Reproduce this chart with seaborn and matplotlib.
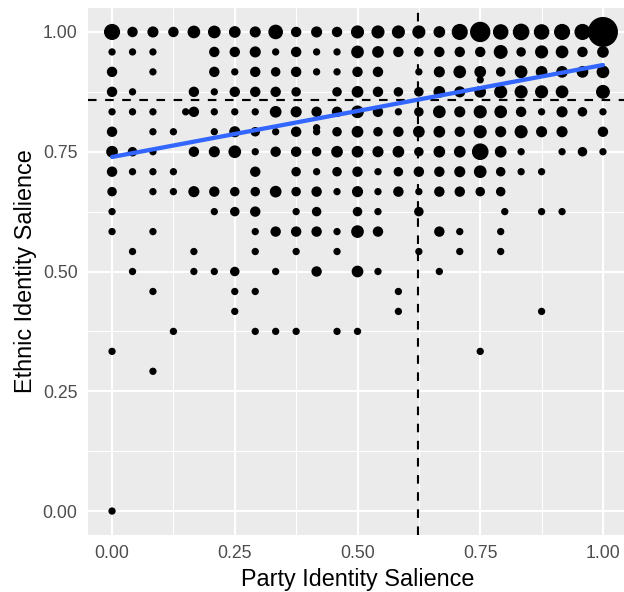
import numpy as np
import pandas as pd
import matplotlib
matplotlib.use("Agg")
import matplotlib.pyplot as plt
import seaborn as sns
from matplotlib.ticker import MultipleLocator, FormatStrFormatter

# ---------------- data ----------------
party_levels = [0.0000, 0.0417, 0.0833, 0.1250, 0.1667, 0.2083, 0.2500, 0.2917,
                0.3333, 0.3750, 0.4167, 0.4583, 0.5000, 0.5417, 0.5833, 0.6250,
                0.6667, 0.7083, 0.7500, 0.7917, 0.8333, 0.8750, 0.9167, 0.9583, 1.0000]
ethnic_levels = [1.0000, 0.9583, 0.9167, 0.8750, 0.8333, 0.7917, 0.7500, 0.7083,
                 0.6667, 0.6250, 0.5833, 0.5417, 0.5000, 0.4583, 0.4167, 0.3750,
                 0.3333, 0.2917, 0.0000]

# counts per (ethnic row, party column); 0 = no respondents
counts = [
    [17, 3, 4, 3, 7, 7, 5, 4, 12, 3, 4, 3, 8, 8, 8, 8, 5, 17, 36, 15, 19, 15, 17, 17, 107],
    [1, 1, 1, 0, 0, 3, 3, 4, 1, 3, 1, 1, 7, 5, 3, 2, 3, 3, 3, 10, 2, 8, 7, 3, 5],
    [3, 0, 1, 0, 0, 3, 1, 3, 2, 3, 1, 1, 3, 3, 0, 1, 4, 7, 5, 2, 7, 5, 5, 5, 7],
    [3, 1, 0, 0, 3, 1, 3, 3, 3, 2, 0, 2, 5, 3, 2, 2, 5, 4, 5, 8, 8, 8, 7, 0, 10],
    [1, 1, 1, 0, 3, 1, 1, 1, 5, 4, 3, 3, 7, 3, 1, 2, 7, 4, 8, 7, 3, 1, 4, 2, 1],
    [3, 0, 1, 1, 0, 1, 4, 2, 1, 3, 1, 2, 5, 2, 3, 5, 5, 3, 8, 4, 8, 4, 4, 0, 3],
    [5, 2, 1, 0, 3, 4, 7, 1, 3, 3, 2, 5, 5, 4, 5, 2, 5, 5, 19, 5, 1, 0, 1, 2, 1],
    [3, 1, 1, 1, 0, 0, 0, 3, 0, 2, 1, 2, 3, 1, 2, 3, 3, 4, 7, 2, 1, 1, 0, 0, 0],
    [2, 0, 1, 1, 4, 3, 2, 2, 5, 2, 3, 1, 4, 1, 3, 1, 3, 3, 2, 2, 0, 0, 0, 0, 0],
    [1, 0, 0, 0, 0, 1, 2, 3, 0, 1, 2, 0, 2, 1, 0, 2, 0, 0, 0, 0, 0, 1, 1, 0, 0],
    [1, 0, 1, 0, 0, 0, 0, 1, 3, 3, 3, 1, 7, 3, 0, 0, 3, 1, 0, 1, 0, 0, 0, 0, 0],
    [0, 1, 0, 0, 1, 0, 0, 1, 0, 1, 0, 1, 0, 0, 0, 1, 0, 1, 0, 1, 0, 0, 0, 0, 0],
    [0, 1, 0, 0, 1, 1, 2, 0, 1, 0, 3, 0, 5, 1, 0, 0, 1, 0, 0, 0, 0, 0, 0, 0, 0],
    [0, 0, 1, 0, 0, 0, 1, 1, 0, 0, 0, 0, 0, 0, 1, 0, 0, 0, 0, 0, 0, 0, 0, 0, 0],
    [0, 0, 0, 0, 0, 0, 1, 0, 0, 0, 0, 0, 0, 0, 1, 0, 0, 0, 0, 0, 0, 1, 0, 0, 0],
    [0, 0, 0, 1, 0, 0, 0, 1, 1, 1, 0, 1, 1, 0, 0, 0, 0, 0, 0, 0, 0, 0, 0, 0, 0],
    [1, 0, 0, 0, 0, 0, 0, 0, 0, 0, 0, 0, 0, 0, 0, 0, 0, 0, 1, 0, 0, 0, 0, 0, 0],
    [0, 0, 1, 0, 0, 0, 0, 0, 0, 0, 0, 0, 0, 0, 0, 0, 0, 0, 0, 0, 0, 0, 0, 0, 0],
    [1, 0, 0, 0, 0, 0, 0, 0, 0, 0, 0, 0, 0, 0, 0, 0, 0, 0, 0, 0, 0, 0, 0, 0, 0],
]

# a few off-grid observations
extra_party = [0.150, 0.4167, 0.750, 0.800]
extra_ethnic = [0.8333, 0.800, 0.900, 0.625]
extra_counts = [1, 1, 1, 1]

# reference lines (means) and fitted linear trend
party_mean = 0.623
ethnic_mean = 0.858
fit_party = [0.0, 1.0]
fit_ethnic = [0.739, 0.931]

x_ticks = [0.00, 0.25, 0.50, 0.75, 1.00]
y_ticks = [0.00, 0.25, 0.50, 0.75, 1.00]

# ---------------- table ----------------
rows = []
for ei, ev in enumerate(ethnic_levels):
    for pi, pv in enumerate(party_levels):
        n = counts[ei][pi]
        if n > 0:
            rows.append((pv, ev, n))
for pv, ev, n in zip(extra_party, extra_ethnic, extra_counts):
    rows.append((pv, ev, n))
df = pd.DataFrame(rows, columns=["party", "ethnic", "n"])

# ---------------- style ----------------
DPI = 144
W, H = 624, 592
sns.set_theme(style="darkgrid")
plt.rcParams["font.family"] = ["Liberation Sans", "DejaVu Sans"]

fig = plt.figure(figsize=(W / DPI, H / DPI), dpi=DPI)
left, right, top, bottom = 87.5, 627.5, 8.0, 535.0
ax = fig.add_axes([left / W, 1 - bottom / H, (right - left) / W, (bottom - top) / H])
ax.set_facecolor("#EBEBEB")

# size scale similar to ggplot's area scale
nmax = df["n"].max()
size_map = {}
for n in sorted(df["n"].unique()):
    d_px = 7.3 + 22.7 * np.sqrt((n - 1) / (nmax - 1))
    size_map[n] = (d_px * 72 / DPI) ** 2

sns.scatterplot(data=df, x="party", y="ethnic", size="n", sizes=size_map,
                color="black", linewidth=0, legend=False, ax=ax, zorder=3)

ax.axhline(ethnic_mean, color="black", lw=1.07, ls=(0, (4, 4)), zorder=4)
ax.axvline(party_mean, color="black", lw=1.07, ls=(0, (4, 4)), zorder=4)
sns.lineplot(x=fit_party, y=fit_ethnic, color="#3366FF", lw=2.13, ax=ax, zorder=5)

ax.set_xlim(-0.05, 1.05)
ax.set_ylim(-0.05, 1.05)
ax.set_xticks(x_ticks)
ax.set_yticks(y_ticks)
ax.xaxis.set_minor_locator(MultipleLocator(0.125))
ax.yaxis.set_minor_locator(MultipleLocator(0.125))
ax.xaxis.set_major_formatter(FormatStrFormatter("%.2f"))
ax.yaxis.set_major_formatter(FormatStrFormatter("%.2f"))

ax.grid(which="major", color="white", lw=1.07)
ax.grid(which="minor", color="white", lw=0.53)
ax.set_axisbelow(True)
for s in ax.spines.values():
    s.set_visible(False)

ax.tick_params(axis="both", which="major", length=2.75, width=1.07, color="#333333",
               labelsize=8.8, labelcolor="#4D4D4D", pad=2.2)
ax.tick_params(axis="both", which="minor", length=0)

ax.set_xlabel("Party Identity Salience", fontsize=11.7, color="black", labelpad=3.0)
ax.set_ylabel("Ethnic Identity Salience", fontsize=11.7, color="black", labelpad=3.0)

fig.savefig("out.png", dpi=DPI, facecolor="white")
